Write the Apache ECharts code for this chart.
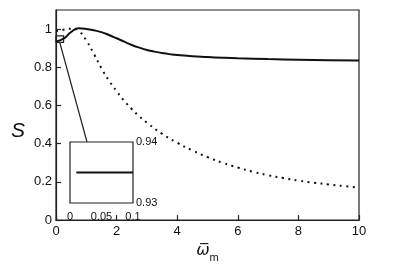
<!DOCTYPE html>
<html><head><meta charset="utf-8">
<script src="https://cdn.jsdelivr.net/npm/echarts@6/dist/echarts.min.js"></script>
<style>html,body{margin:0;padding:0;background:#fff}#c{width:415px;height:268px}</style>
</head><body><div id="c"></div>
<script>
// Solid curve
const solidX = [0, 0.25, 0.5, 0.75, 1.0, 1.25, 1.5, 1.75, 2.0, 2.25, 2.5, 2.75, 3.0, 3.25, 3.5, 3.75, 4.0, 4.5, 5, 5.5, 6, 7, 8, 9, 10];
const solidY = [0.935, 0.95, 0.985, 1.004, 1.001, 0.994, 0.984, 0.969, 0.952, 0.934, 0.917, 0.903, 0.891, 0.882, 0.875, 0.869, 0.864, 0.858, 0.854, 0.85, 0.847, 0.843, 0.84, 0.837, 0.835];
// Dotted curve
const dotX = [0, 0.25, 0.5, 0.75, 1.0, 1.25, 1.5, 1.75, 2.0, 2.25, 2.5, 2.75, 3.0, 3.5, 4.0, 4.5, 5.0, 5.5, 6.0, 6.5, 7.0, 7.5, 8.0, 8.5, 9.0, 9.5, 10];
const dotY = [0.99, 0.997, 1.002, 0.99, 0.94, 0.87, 0.795, 0.73, 0.675, 0.625, 0.582, 0.543, 0.51, 0.452, 0.405, 0.365, 0.33, 0.3, 0.275, 0.253, 0.235, 0.22, 0.207, 0.196, 0.187, 0.178, 0.17];
// Inset
const insetX = [0.01, 0.1];
const insetY = [0.935, 0.935];
const insetXTicks = [0, 0.05, 0.1];
const insetYTicks = [0.93, 0.94];
// Zoom box marker on main plot
const boxX = [0, 0.25];
const boxY = [0.93, 0.965];

const zip = (a, b) => a.map((v, i) => [v, b[i]]);
const font = 'Liberation Sans, Arial, sans-serif';
const chart = echarts.init(document.getElementById('c'), null, {renderer: 'canvas'});
const fmtNum = v => String(Math.round(v * 1000) / 1000);

chart.setOption({
  animation: false,
  grid: [
    {left: 56, top: 10, width: 303, height: 220, show: true, borderColor: '#222', borderWidth: 1.2, backgroundColor: 'transparent'},
    {left: 70, top: 142, width: 63, height: 61, show: true, borderColor: '#222', borderWidth: 1.2, backgroundColor: '#fff', z: 5}
  ],
  xAxis: [
    {gridIndex: 0, type: 'value', min: 0, max: 10, interval: 2,
     axisLine: {show: true, lineStyle: {color: '#222', width: 1.2}},
     axisTick: {show: true, inside: true, length: 5, lineStyle: {color: '#222', width: 1.2}},
     splitLine: {show: false},
     axisLabel: {color: '#111', fontSize: 13, fontFamily: font, margin: 5},
     name: '{w|ω\u0305}{s|m}', nameLocation: 'middle', nameGap: 16,
     nameTextStyle: {rich: {
       w: {fontSize: 16, fontStyle: 'italic', fontFamily: 'DejaVu Sans, sans-serif', color: '#111', verticalAlign: 'bottom'},
       s: {fontSize: 11, fontFamily: font, color: '#111', verticalAlign: 'bottom', padding: [0,0,-4,0]}
     }}},
    {gridIndex: 1, type: 'value', min: 0, max: 0.1, interval: 0.05,
     axisLine: {show: false}, axisTick: {show: false}, splitLine: {show: false},
     axisLabel: {color: '#111', fontSize: 11, fontFamily: font, margin: 8, formatter: fmtNum}}
  ],
  yAxis: [
    {gridIndex: 0, type: 'value', min: 0, max: 1.1, interval: 0.2,
     axisLine: {show: true, lineStyle: {color: '#222', width: 1.2}},
     axisTick: {show: true, inside: true, length: 5, lineStyle: {color: '#222', width: 1.2}},
     splitLine: {show: false},
     axisLabel: {color: '#111', fontSize: 13, fontFamily: font, margin: 4, showMaxLabel: false,
       formatter: v => (v > 1.05 ? '' : fmtNum(v))}},
    {gridIndex: 1, type: 'value', min: 0.93, max: 0.94, interval: 0.01, position: 'right',
     axisLine: {show: false}, axisTick: {show: false}, splitLine: {show: false},
     axisLabel: {color: '#111', fontSize: 11, fontFamily: font, margin: 3, formatter: fmtNum,
       verticalAlign: 'middle', padding: [6, 0, 0, 0]}}
  ],
  series: [
    {type: 'line', xAxisIndex: 0, yAxisIndex: 0, data: zip(dotX, dotY), smooth: 0.5, showSymbol: false,
     lineStyle: {color: '#111', width: 2, type: [2, 4.5]}, z: 2},
    {type: 'line', xAxisIndex: 0, yAxisIndex: 0, data: zip(solidX, solidY), smooth: 0.5, showSymbol: false,
     lineStyle: {color: '#111', width: 2}, z: 3,
     markArea: {silent: true, itemStyle: {color: 'transparent', borderColor: '#222', borderWidth: 1.2},
       data: [[{coord: [boxX[0], boxY[1]]}, {coord: [boxX[1], boxY[0]]}]]}},
    {type: 'line', xAxisIndex: 1, yAxisIndex: 1, data: zip(insetX, insetY), showSymbol: false,
     lineStyle: {color: '#111', width: 2}, z: 10}
  ]
});

// connector line from zoom box to inset, and the S axis title
const p1 = chart.convertToPixel({gridIndex: 0}, [(boxX[0] + boxX[1]) / 2, boxY[0]]);
const p2 = chart.convertToPixel({gridIndex: 1}, [0.027, insetYTicks[1]]);
chart.setOption({graphic: [
  {type: 'line', shape: {x1: p1[0], y1: p1[1], x2: p2[0], y2: p2[1]},
   style: {stroke: '#222', lineWidth: 1.2}, z: 4},
  {type: 'text', x: 18, y: 131, style: {text: 'S', fontSize: 21, fontStyle: 'italic', fontFamily: font,
   fill: '#111', align: 'center', verticalAlign: 'middle'}}
]});
</script></body></html>
